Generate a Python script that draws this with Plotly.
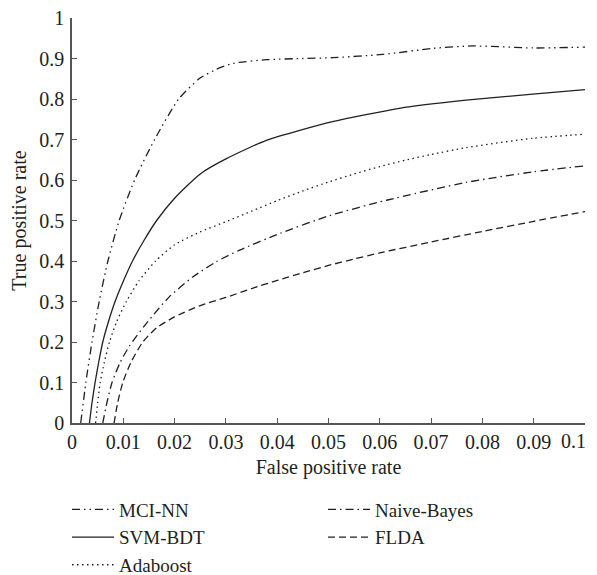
import plotly.graph_objects as go

# ---- data ----
mci_x = [0.0017, 0.0027, 0.0039, 0.0053, 0.007, 0.0092, 0.0122, 0.0161, 0.0208, 0.0249, 0.0281, 0.0314, 0.0379, 0.045, 0.0508, 0.0606, 0.0703, 0.0781, 0.0898, 0.1]
mci_y = [0.0, 0.1, 0.2, 0.3, 0.4, 0.5, 0.6, 0.7, 0.8, 0.851, 0.873, 0.888, 0.897, 0.900, 0.902, 0.910, 0.925, 0.931, 0.926, 0.928]

svm_x = [0.0034, 0.0039, 0.0045, 0.0052, 0.006, 0.0071, 0.0084, 0.01, 0.0118, 0.014, 0.0165, 0.02, 0.025, 0.03, 0.0379, 0.0508, 0.0638, 0.0768, 0.0898, 0.1]
svm_y = [0.0, 0.05, 0.1, 0.15, 0.2, 0.25, 0.3, 0.35, 0.4, 0.45, 0.5, 0.555, 0.615, 0.652, 0.698, 0.744, 0.777, 0.797, 0.812, 0.823]

ada_x = [0.0046, 0.005, 0.0055, 0.0063, 0.0073, 0.0087, 0.0106, 0.013, 0.0163, 0.02, 0.025, 0.03, 0.035, 0.04, 0.045, 0.05, 0.055, 0.06, 0.065, 0.07, 0.0768, 0.0898, 0.1]
ada_y = [0.0, 0.05, 0.1, 0.15, 0.2, 0.25, 0.3, 0.35, 0.4, 0.44, 0.472, 0.497, 0.523, 0.549, 0.573, 0.595, 0.615, 0.633, 0.649, 0.663, 0.68, 0.703, 0.713]

nb_x = [0.006, 0.0068, 0.0078, 0.0094, 0.0112, 0.0145, 0.019, 0.0236, 0.0281, 0.0327, 0.0405, 0.0502, 0.0613, 0.0768, 0.0898, 0.1]
nb_y = [0.0, 0.05, 0.1, 0.15, 0.19, 0.246, 0.312, 0.361, 0.398, 0.427, 0.468, 0.512, 0.55, 0.594, 0.62, 0.635]

flda_x = [0.0082, 0.0089, 0.0099, 0.0115, 0.0138, 0.0165, 0.02, 0.025, 0.03, 0.035, 0.04, 0.045, 0.05, 0.055, 0.06, 0.07, 0.08, 0.09, 0.1]
flda_y = [0.0, 0.05, 0.1, 0.15, 0.2, 0.235, 0.262, 0.29, 0.31, 0.332, 0.352, 0.371, 0.389, 0.405, 0.42, 0.447, 0.473, 0.498, 0.522]

x_ticks = [0, 0.01, 0.02, 0.03, 0.04, 0.05, 0.06, 0.07, 0.08, 0.09, 0.1]
x_labels = ["0", "0.01", "0.02", "0.03", "0.04", "0.05", "0.06", "0.07", "0.08", "0.09", "0.1"]
y_ticks = [0, 0.1, 0.2, 0.3, 0.4, 0.5, 0.6, 0.7, 0.8, 0.9, 1]
y_labels = ["0", "0.1", "0.2", "0.3", "0.4", "0.5", "0.6", "0.7", "0.8", "0.9", "1"]

LINE = "#231f20"
FONT = "Liberation Serif"

fig = go.Figure()
series = [
    ("MCI-NN", mci_x, mci_y, "8px,4px,1.5px,4px,1.5px,4px", "legend"),
    ("SVM-BDT", svm_x, svm_y, "solid", "legend"),
    ("Adaboost", ada_x, ada_y, "1.5px,3.5px", "legend"),
    ("Naive-Bayes", nb_x, nb_y, "8px,4px,1.5px,4px", "legend2"),
    ("FLDA", flda_x, flda_y, "7px,4px", "legend2"),
]
for name, xs, ys, dash, lg in series:
    fig.add_trace(go.Scatter(
        x=xs, y=ys, mode="lines", name=name, legend=lg,
        line=dict(color=LINE, width=1.3, dash=dash, shape="spline", smoothing=0.6),
    ))

legend_common = dict(
    orientation="v", xanchor="left", yanchor="top", yref="container",
    y=0.149, font=dict(family=FONT, size=19, color="#231f20"),
    itemwidth=42, bgcolor="rgba(0,0,0,0)", tracegroupgap=0,
)

# the page body adds an 8px offset; figure is sized so the plot lands where the reference has it
fig.update_layout(
    width=589, height=567,
    margin=dict(l=64, r=12, t=10, b=152),
    paper_bgcolor="white", plot_bgcolor="white",
    font=dict(family=FONT, size=20, color="#231f20"),
    showlegend=True,
    legend=dict(x=-0.0097, **legend_common),
    legend2=dict(x=0.4893, **legend_common),
)

# last x tick label is right-aligned at the axis end so it stays inside the page
axis_ticktext = x_labels[:-1] + [""]
fig.add_annotation(
    x=x_ticks[-1], xref="x", y=0, yref="paper", text=x_labels[-1],
    showarrow=False, xanchor="right", yanchor="middle", xshift=3, yshift=-18,
    font=dict(family=FONT, size=20, color="#231f20"),
)

fig.update_xaxes(
    range=[0, 0.1], tickvals=x_ticks, ticktext=axis_ticktext, automargin=False,
    ticklabeloverflow="allow",
    showgrid=False, zeroline=False, showline=True, linecolor="#555", linewidth=1.5,
    ticks="inside", ticklen=5, tickcolor="#555", tickwidth=1.2,
    title=dict(text="False positive rate", font=dict(size=20), standoff=8),
)
fig.update_yaxes(
    range=[0, 1], tickvals=y_ticks, ticktext=y_labels, automargin=False,
    ticklabeloverflow="allow", ticklabelstandoff=2,
    showgrid=False, zeroline=False, showline=True, linecolor="#555", linewidth=1.5,
    ticks="inside", ticklen=5, tickcolor="#555", tickwidth=1.2,
    title=dict(text="True positive rate", font=dict(size=20), standoff=13),
)

fig.write_html("out.html")
